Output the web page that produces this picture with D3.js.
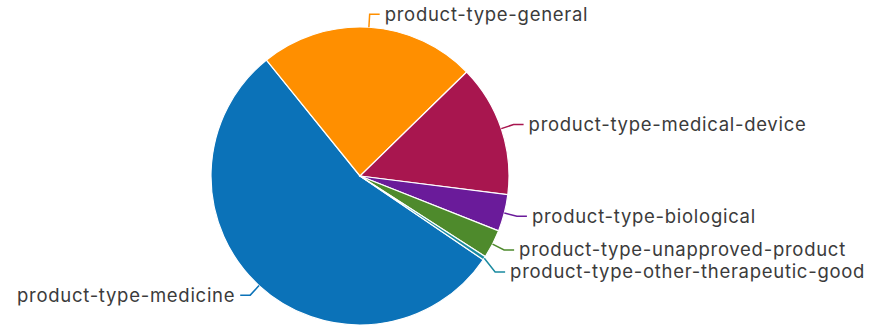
<!DOCTYPE html>
<html>
  <head>
    <meta charset="utf-8">
    <style>
      body { margin: 0; background: #fff; }
      .label { font: 18.5px Inter, sans-serif; letter-spacing: 0.72px; fill: #3b3b3b; }
    </style>
  </head>
  <body>
  <svg class="chart"></svg>
  <script src="https://d3js.org/d3.v7.min.js"></script>
  <script>
    // slice data, clockwise from medicine
    var categories = ["product-type-medicine", "product-type-general", "product-type-medical-device",
      "product-type-biological", "product-type-unapproved-product", "product-type-other-therapeutic-good"];
    var values = [547, 235, 143, 40, 31, 4];
    var colors = ["#0b72b8", "#ff8f00", "#a8164f", "#6a1b9a", "#4e8a2c", "#1a8aa0"];

    var width = 886, height = 326;
    var cx = 360, cy = 176, radius = 149;
    var start = 124.2 * Math.PI / 180;

    var svg = d3.select("svg").attr("width", width).attr("height", height);
    var g = svg.append("g").attr("transform", "translate(" + cx + "," + cy + ")");

    var data = categories.map(function(c, i) { return {name: c, value: values[i], color: colors[i]}; });

    var pie = d3.pie().sort(null).value(function(d) { return d.value; })
      .startAngle(start).endAngle(start + 2 * Math.PI);
    var arc = d3.arc().innerRadius(0).outerRadius(radius);

    var arcs = pie(data);

    g.selectAll("path.slice")
      .data(arcs)
      .enter().append("path")
      .attr("class", "slice")
      .attr("d", arc)
      .attr("fill", function(d) { return d.data.color; })
      .attr("stroke", "#fff")
      .attr("stroke-width", 1.2);

    // leader lines + labels
    var len1 = 13, len2 = 10, minGap = 22;
    var labels = arcs.map(function(d) {
      var a = (d.startAngle + d.endAngle) / 2;
      var sx = Math.sin(a), sy = -Math.cos(a);
      return {
        d: d,
        right: sx >= 0,
        p0: [sx * radius, sy * radius],
        p1: [sx * (radius + len1), sy * (radius + len1)]
      };
    });

    // push right-side labels apart (top to bottom)
    var rightSide = labels.filter(function(l) { return l.right; })
      .sort(function(a, b) { return a.p1[1] - b.p1[1]; });
    for (var i = 1; i < rightSide.length; i++) {
      if (rightSide[i].p1[1] < rightSide[i - 1].p1[1] + minGap) {
        rightSide[i].p1[1] = rightSide[i - 1].p1[1] + minGap;
      }
    }

    labels.forEach(function(l) {
      var p2 = [l.p1[0] + (l.right ? len2 : -len2), l.p1[1]];
      g.append("polyline")
        .attr("points", [l.p0, l.p1, p2].map(function(p) { return p.join(","); }).join(" "))
        .attr("fill", "none")
        .attr("stroke", l.d.data.color)
        .attr("stroke-width", 1.5);
      g.append("text")
        .attr("class", "label")
        .attr("x", p2[0] + (l.right ? 5 : -5))
        .attr("y", l.p1[1])
        .attr("dy", "0.35em")
        .attr("text-anchor", l.right ? "start" : "end")
        .text(l.d.data.name);
    });
  </script>
  </body>
</html>
